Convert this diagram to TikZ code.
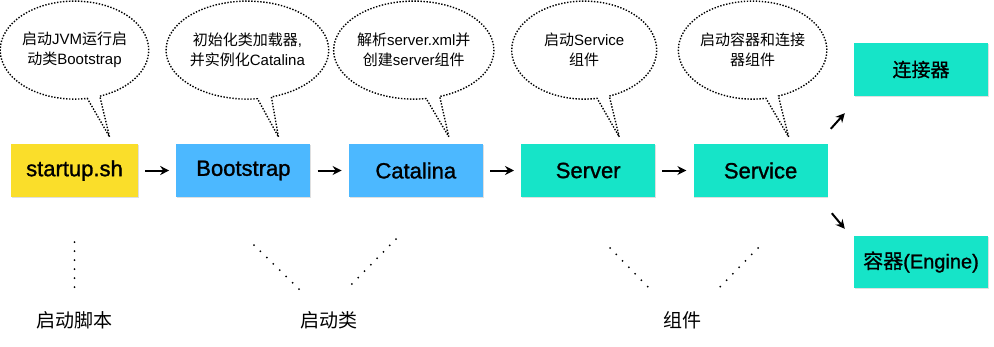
\documentclass[tikz,border=0pt]{standalone}
\usepackage{fontspec}
\setmainfont{Liberation Sans}
\newfontfamily\cjk{Noto Sans CJK SC}
\newfontfamily\stagefont{Liberation Sans}[FakeBold=1.2]
\newfontfamily\stagecjk{Noto Sans CJK SC}[FakeBold=0.8]
\usetikzlibrary{arrows.meta, positioning, calc, shapes.callouts, shadows}
\definecolor{shyellow}{HTML}{FADE2A}
\definecolor{clsblue}{HTML}{4CB8FF}
\definecolor{comteal}{HTML}{16E4C8}

\tikzset{
  stage/.style={minimum width=134pt, minimum height=53pt, inner sep=0pt,
    font=\fontsize{22}{26}\selectfont\stagefont,
    drop shadow={shadow xshift=0.8pt, shadow yshift=-1.2pt, opacity=0.25}},
  bubble/.style={ellipse callout, draw, line width=1.4pt, dash pattern=on 1.4pt off 1.6pt,
    callout pointer arc=10, minimum width=145pt, minimum height=98pt, inner sep=0pt, align=center,
    font=\fontsize{15}{20}\selectfont},
  flow/.style={-{Stealth[length=9pt,width=9pt]}, line width=2pt, shorten >=7pt, shorten <=7pt},
  trail/.style={line width=2pt, line cap=round, dash pattern=on 0pt off 9pt},
  tag/.style={font=\fontsize{19}{22}\selectfont\cjk},
}

\begin{document}
\begin{tikzpicture}[x=1pt, y=-1pt, >=Stealth]
  \useasboundingbox (0,0) rectangle (994,346);

  % main chain
  \node[stage, fill=shyellow, minimum width=127pt] (startup) at (74.5,170.5) {startup.sh};
  \node[stage, fill=clsblue, right=38pt of startup] (bootstrap) {Bootstrap};
  \node[stage, fill=clsblue, right=38pt of bootstrap] (catalina) {Catalina};
  \node[stage, fill=comteal, right=38pt of catalina] (server) {Server};
  \node[stage, fill=comteal, right=38pt of server] (service) {Service};
  \node[stage, fill=comteal, font=\fontsize{19}{22}\selectfont\stagecjk] (conn) at (921,69.5) {连接器};
  \node[stage, fill=comteal, minimum height=52pt, font=\fontsize{20}{22}\selectfont\stagefont] (engine) at (921,262) {{\stagecjk 容器}(Engine)};

  \draw[flow] (startup) -- (bootstrap);
  \draw[flow] (bootstrap) -- (catalina);
  \draw[flow] (catalina) -- (server);
  \draw[flow] (server) -- (service);
  \draw[flow, shorten <=0pt, shorten >=0pt] ($(service.north east)+(3,-15)$) -- ($(conn.south west)+(-9,17)$);
  \draw[flow, shorten <=0pt, shorten >=0pt] ($(service.south east)+(4,16)$) -- ($(engine.north west)+(-9,-7)$);

  % speech bubbles
  \node[bubble, above=44pt of startup, callout absolute pointer={($(startup.north)+(35,-7)$)}] (note1)
    {{\cjk 启动}JVM{\cjk 运行启}\\{\cjk 动类}Bootstrap};
  \node[bubble, above=44pt of bootstrap, xshift=4pt, callout absolute pointer={($(bootstrap.north)+(35,-7)$)}] (note2)
    {{\cjk 初始化类加载器},\\{\cjk 并实例化}Catalina};
  \node[bubble, above=44pt of catalina, xshift=-2pt, callout absolute pointer={($(catalina.north)+(33,-7)$)}] (note3)
    {{\cjk 解析}server.xml{\cjk 并}\\{\cjk 创建}server{\cjk 组件}};
  \node[bubble, above=44pt of server, xshift=-4pt, callout absolute pointer={($(server.north)+(31,-7)$)}] (note4)
    {{\cjk 启动}Service\\{\cjk 组件}};
  \node[bubble, above=44pt of service, xshift=-8pt, callout absolute pointer={($(service.north)+(28,-7)$)}] (note5)
    {{\cjk 启动容器和连接}\\{\cjk 器组件}};

  % groups below
  \node[tag] (scriptlbl) at (74.5,320) {启动脚本};
  \node[tag] (classlbl) at (329,320) {启动类};
  \node[tag] (complbl) at (682,320) {组件};

  \draw[trail] ($(scriptlbl)+(0,-78)$) -- ($(scriptlbl)+(0,-33)$);
  \draw[trail] ($(classlbl)+(-75,-75)$) -- ($(classlbl)+(-29,-30)$);
  \draw[trail] ($(classlbl)+(67,-81)$) -- ($(classlbl)+(22,-35)$);
  \draw[trail] ($(complbl)+(-72,-72)$) -- ($(complbl)+(-33,-32)$);
  \draw[trail] ($(complbl)+(76,-72)$) -- ($(complbl)+(37,-32)$);
\end{tikzpicture}
\end{document}
